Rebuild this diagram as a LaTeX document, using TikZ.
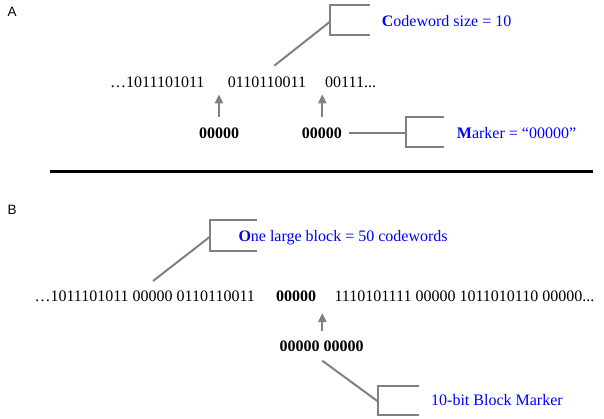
\documentclass[tikz,border=0pt]{standalone}
\usepackage{fontspec}
\setmainfont{Liberation Serif}
\newfontfamily\labfont{Liberation Sans}
\usetikzlibrary{arrows.meta}
\definecolor{lblue}{RGB}{0,0,255}
\definecolor{lgray}{RGB}{128,128,128}
\begin{document}
\begin{tikzpicture}[x=1pt,y=-1pt,
  txt/.style={anchor=base west,inner sep=0pt,font=\fontsize{16}{19}\selectfont},
  bits/.style={txt,text=black},
  mk/.style={txt,text=black,font=\fontsize{16}{19}\selectfont\bfseries},
  note/.style={txt,text=lblue},
  panel/.style={anchor=base west,inner sep=0pt,font=\labfont\fontsize{13.5}{15}\selectfont},
  gline/.style={draw=lgray,line width=2pt},
  garrow/.style={gline,-{Triangle[length=9pt,width=8pt]}},
  sep/.style={draw=black,line width=2.5pt}]
\useasboundingbox (0,0) rectangle (604,418);
% ---------- panel A ----------
\node[panel] (labA) at (7.5,16.8) {A};
\node[bits] (a1) at (110,87.1) {…1011101011};
\node[bits] (a2) at (227.7,87.1) {0110110011};
\node[bits] (a3) at (325,87.1) {00111...};
\node[mk] (m1) at (199,138.1) {00000};
\node[mk] (m2) at (301.7,138.1) {00000};
\node[note] (cw) at (381.7,26.4) {\textbf{C}odeword size = 10};
\node[note] (mkl) at (456.7,138.4) {\textbf{M}arker = “00000”};
% arrows
\coordinate (m1s) at (219,117.3);
\coordinate (m1e) at (219,94.3);
\coordinate (m2s) at (322.3,117.3);
\coordinate (m2e) at (322.3,94.3);
\draw[garrow] (m1s) -- (m1e);
\draw[garrow] (m2s) -- (m2e);
% codeword callout
\coordinate (cwA) at (274.3,65.7);
\coordinate (cwB) at (330,21.7);
\coordinate (cwT) at (330,5);
\coordinate (cwBt) at (330,35);
\draw[gline] (cwA) -- (cwB);
\draw[gline] (370,5) -- (cwT) -- (cwBt) -- (370,35);
% marker callout
\coordinate (mkA) at (349.3,133.3);
\coordinate (mkB) at (406,133.3);
\draw[gline] (mkA) -- (mkB);
\draw[gline] (444.3,116.7) -- (406,116.7) -- (406,147.3) -- (444.3,147.3);
% separator
\coordinate (sepL) at (50,171.7);
\coordinate (sepR) at (593.3,171.7);
\draw[sep] (sepL) -- (sepR);
% ---------- panel B ----------
\node[panel] (labB) at (7.5,214.6) {B};
\node[note] (blk) at (238.3,241.4) {\textbf{O}ne large block = 50 codewords};
\node[bits] (b1) at (34.3,301.7) {…1011101011 00000 0110110011};
\node[mk] (bm) at (276,301.7) {00000};
\node[bits] (b2) at (334.3,301.7) {1110101111 00000 1011010110\hskip 4pt 00000...};
\node[mk] (bmm) at (279.3,351.7) {00000 00000};
\node[note] (bml) at (431,405) {10-bit Block Marker};
\coordinate (bas) at (322.3,331.3);
\coordinate (bae) at (322.3,313);
\draw[garrow] (bas) -- (bae);
% block callout
\coordinate (blA) at (153,281);
\coordinate (blB) at (210,236.7);
\draw[gline] (blA) -- (blB);
\draw[gline] (256.7,220) -- (210,220) -- (210,251) -- (256.7,251);
% 10-bit callout
\coordinate (bmA) at (322.3,360.7);
\coordinate (bmB) at (377.7,401.3);
\draw[gline] (bmA) -- (bmB);
\draw[gline] (419,386.3) -- (377.7,386.3) -- (377.7,414.7) -- (419,414.7);
\end{tikzpicture}
\end{document}
